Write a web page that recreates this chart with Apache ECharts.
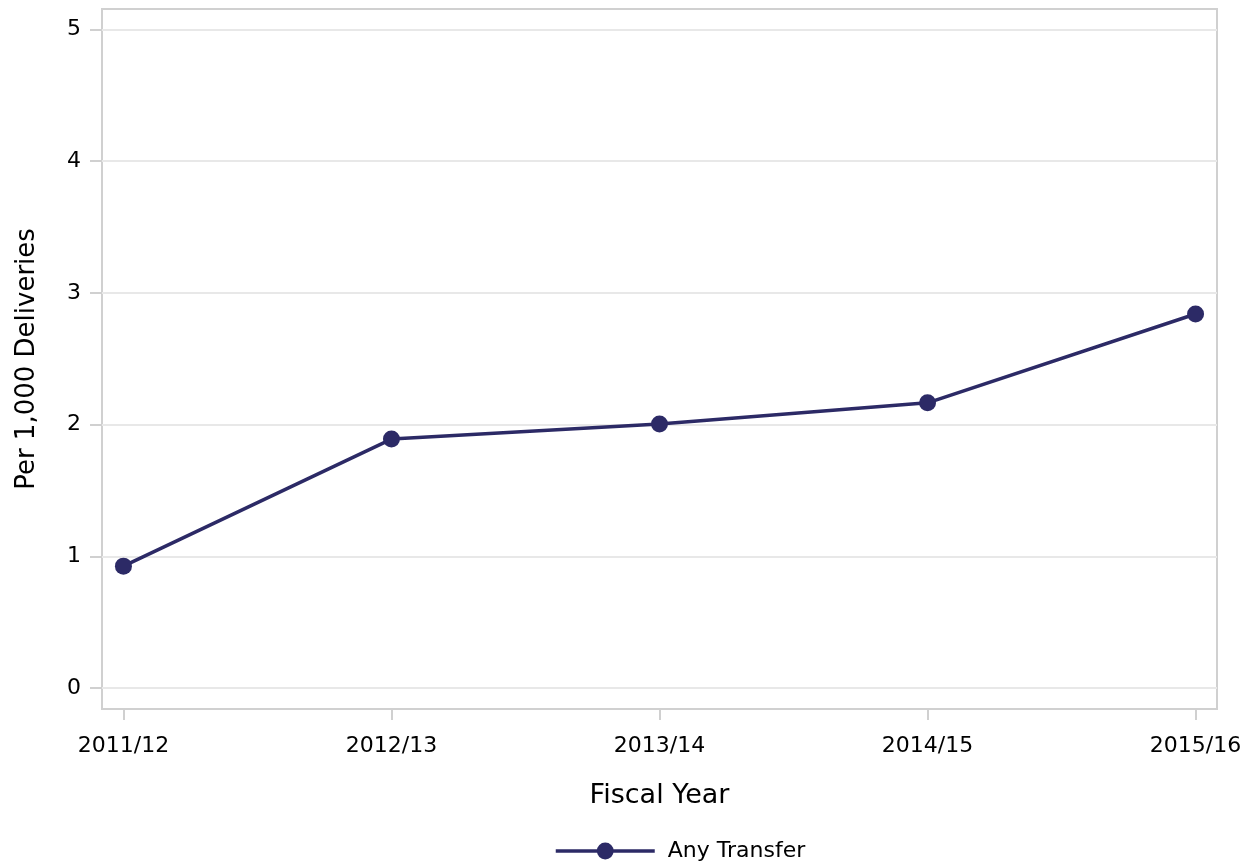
<!DOCTYPE html>
<html><head><meta charset="utf-8">
<script src="https://cdn.jsdelivr.net/npm/echarts@6/dist/echarts.min.js"></script>
<style>html,body{margin:0;padding:0;background:#fff}#c{width:1254px;height:867px}</style>
</head><body><div id="c"></div>
<script>
const categories = ['2011/12','2012/13','2013/14','2014/15','2015/16'];
const anyTransfer = [0.925, 1.89, 2.005, 2.165, 2.84];
const yTicks = [0,1,2,3,4,5];
const seriesName = 'Any Transfer';

const chart = echarts.init(document.getElementById('c'));
const font = 'DejaVu Sans, sans-serif';
chart.setOption({
  animation: false,
  backgroundColor: '#fff',
  grid: {left: 102, right: 37, top: 9, bottom: 158, show: true, borderColor: '#d0d0d0', borderWidth: 2, containLabel: false, outerBoundsMode: 'none'},
  xAxis: {
    type: 'value', min: -0.08, max: 4.08,
    name: 'Fiscal Year', nameLocation: 'middle', nameGap: 73, nameMoveOverlap: false,
    nameTextStyle: {fontFamily: font, fontSize: 27, color: '#000'},
    axisLine: {show: false, onZero: false},
    axisTick: {show: true, length: 11, lineStyle: {color: '#d0d0d0', width: 2}, customValues: categories.map((c,i)=>i)},
    axisLabel: {customValues: categories.map((c,i)=>i), formatter: v => categories[Math.round(v)], fontFamily: font, fontSize: 22, color: '#000', margin: 26},
    splitLine: {show: false}
  },
  yAxis: {
    type: 'value', min: -0.16, max: 5.156,
    name: 'Per 1,000 Deliveries', nameLocation: 'middle', nameGap: 62, nameMoveOverlap: false,
    nameTextStyle: {fontFamily: font, fontSize: 26, color: '#000'},
    axisLine: {show: false, onZero: false},
    axisTick: {show: true, length: 12, lineStyle: {color: '#d0d0d0', width: 2}, customValues: yTicks},
    axisLabel: {customValues: yTicks, fontFamily: font, fontSize: 22, color: '#000', margin: 21},
    splitLine: {show: true, lineStyle: {color: '#e8e8e8', width: 2}}
  },
  legend: {
    show: true, top: 840, left: 554, padding: 0,
    itemWidth: 99, itemHeight: 21, itemGap: 10,
    lineStyle: {width: 3.5},
    textStyle: {fontFamily: font, fontSize: 22, color: '#000', padding: [0,0,0,8]},
    data: [seriesName]
  },
  series: [{
    name: seriesName, type: 'line',
    data: anyTransfer.map((v,i)=>[i, v]),
    symbol: 'circle', symbolSize: 17,
    lineStyle: {color: '#2c2a66', width: 3.5},
    itemStyle: {color: '#2c2a66'}
  }]
});
</script></body></html>
